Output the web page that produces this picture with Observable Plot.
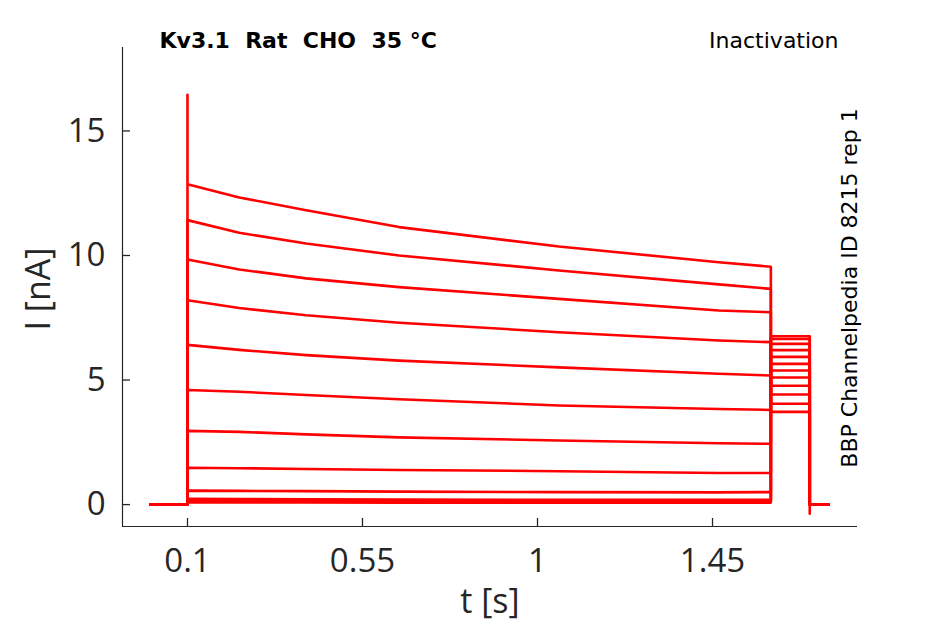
<!DOCTYPE html>
<html>
<head>
<meta charset="utf-8">
<script src="https://cdn.jsdelivr.net/npm/d3@7"></script>
<script src="https://cdn.jsdelivr.net/npm/@observablehq/plot@0.6"></script>
<style>
  html, body { margin: 0; padding: 0; background: #fff; }
  svg text { white-space: pre; }
</style>
</head>
<body>
<div id="chart"></div>
<script>
// ---- data ----
const titleText = "Kv3.1  Rat  CHO  35 °C";
const protocolText = "Inactivation";
const sideText = "BBP Channelpedia ID 8215 rep 1";
const xLabel = "t [s]";
const yLabel = "I [nA]";

const xTicks = [0.1, 0.55, 1, 1.45];
const xTickLabels = ["0.1", "0.55", "1", "1.45"];
const yTicks = [0, 5, 10, 15];
const yTickLabels = ["0", "5", "10", "15"];
const xDomain = [-0.0671, 1.8228];
const yDomain = [-0.88, 18.35];

// timing of the protocol (s)
const tStart = 0.005;
const tPulseOn = 0.1;
const tPulseOff = 1.6;
const tTestOff = 1.7;
const tEnd = 1.748;

// sampled times along the conditioning pulse (s)
const pulseTimes = [0.1, 0.233, 0.405, 0.644, 1.055, 1.466, 1.6];

// current during the conditioning pulse, one row per sweep (nA)
const pulseCurrents = [
  [12.86, 12.33, 11.82, 11.14, 10.36, 9.73, 9.55],
  [11.42, 10.91, 10.48, 10.00, 9.40, 8.84, 8.66],
  [9.84, 9.44, 9.08, 8.73, 8.26, 7.79, 7.72],
  [8.20, 7.89, 7.60, 7.30, 6.92, 6.59, 6.52],
  [6.41, 6.21, 6.00, 5.78, 5.51, 5.25, 5.18],
  [4.60, 4.53, 4.40, 4.23, 3.98, 3.84, 3.80],
  [2.96, 2.92, 2.82, 2.70, 2.57, 2.46, 2.44],
  [1.48, 1.46, 1.43, 1.39, 1.34, 1.27, 1.27],
  [0.56, 0.55, 0.54, 0.52, 0.50, 0.49, 0.50],
  [0.23, 0.22, 0.21, 0.20, 0.19, 0.19, 0.19],
  [0.15, 0.15, 0.14, 0.14, 0.13, 0.13, 0.13],
  [0.09, 0.09, 0.09, 0.08, 0.08, 0.08, 0.08]
];
// current during the test pulse (nA)
const testCurrents = [3.72, 4.05, 4.42, 4.77, 5.10, 5.38, 5.65, 5.93, 6.20, 6.45, 6.65, 6.76];
// capacitive transients (nA) at pulse onset and at test offset (null = none)
const onsetSpikes = [16.45, null, null, null, null, null, null, null, null, null, null, null];
const offsetSpikes = [-0.37, null, null, null, null, null, null, null, null, null, null, null];

// ---- build the table the library needs ----
const rows = [];
pulseCurrents.forEach((levels, s) => {
  const push = (t, i) => rows.push({sweep: s, t, i});
  push(tStart, 0);
  push(tPulseOn, 0);
  if (onsetSpikes[s] != null) push(tPulseOn, onsetSpikes[s]);
  pulseTimes.forEach((t, k) => push(t, levels[k]));
  push(tPulseOff, testCurrents[s]);
  push(tTestOff, testCurrents[s]);
  if (offsetSpikes[s] != null) push(tTestOff, offsetSpikes[s]);
  push(tTestOff, 0);
  push(tEnd, 0);
});

const ink = "#262626";
const tickFont = "'Open Sans', 'Noto Sans', sans-serif";
const textFont = "'DejaVu Sans', sans-serif";
const W = 945, H = 624, mL = 122, mR = 88, mT = 47, mB = 98;
const tickLen = 8; // px, pointing inward
const yTickSpan = (yDomain[1] - yDomain[0]) * tickLen / (H - mT - mB);
const xTickSpan = (xDomain[1] - xDomain[0]) * tickLen / (W - mL - mR);

const chart = Plot.plot({
  width: W,
  height: H,
  marginLeft: mL,
  marginRight: mR,
  marginTop: mT,
  marginBottom: mB,
  style: {background: "#fff", color: ink, overflow: "visible"},
  x: {domain: xDomain},
  y: {domain: yDomain},
  marks: [
    Plot.ruleX([xDomain[0]], {stroke: ink, strokeWidth: 1.2}),
    Plot.ruleY([yDomain[0]], {stroke: ink, strokeWidth: 1.2}),
    // inward ticks
    Plot.ruleX(xTicks, {x: d => d, y1: yDomain[0], y2: yDomain[0] + yTickSpan, stroke: ink, strokeWidth: 1.3}),
    Plot.ruleY(yTicks, {y: d => d, x1: xDomain[0], x2: xDomain[0] + xTickSpan, stroke: ink, strokeWidth: 1.3}),
    Plot.axisX(xTicks, {
      tickSize: 0, tickPadding: 22, fill: ink,
      fontSize: 33, fontFamily: tickFont,
      tickFormat: d => xTickLabels[xTicks.indexOf(d)], label: null
    }),
    Plot.axisY(yTicks, {
      tickSize: 0, tickPadding: 17, fill: ink,
      fontSize: 33, fontFamily: tickFont,
      tickFormat: d => yTickLabels[yTicks.indexOf(d)], label: null
    }),
    Plot.line(rows, {x: "t", y: "i", z: "sweep", stroke: "#ff0000", strokeWidth: 2.6, curve: "linear"}),
    Plot.text([xLabel], {text: d => d, frameAnchor: "bottom", dy: 76, lineAnchor: "middle", textAnchor: "middle",
      fontSize: 34, fontFamily: tickFont, fill: ink}),
    Plot.text([yLabel], {text: d => d, frameAnchor: "left", dx: -83, dy: 2, rotate: -90, lineAnchor: "middle",
      textAnchor: "middle", fontSize: 34, fontFamily: tickFont, fill: ink}),
    Plot.text([titleText], {text: d => d, frameAnchor: "top-left", dx: 37, dy: 0, textAnchor: "start",
      lineAnchor: "bottom", fontWeight: "bold", fontSize: 22, fontFamily: textFont, fill: "#000"}),
    Plot.text([protocolText], {text: d => d, frameAnchor: "top-right", dx: -19, dy: 0, textAnchor: "end",
      lineAnchor: "bottom", fontSize: 22, fontFamily: textFont, fill: "#000"}),
    Plot.text([sideText], {text: d => d, frameAnchor: "right", dx: -8, dy: 1, rotate: -90,
      lineAnchor: "middle", textAnchor: "middle", fontSize: 22, fontFamily: textFont, fill: "#000"})
  ]
});
chart.querySelectorAll("text").forEach(t => t.setAttributeNS("http://www.w3.org/XML/1998/namespace", "xml:space", "preserve"));
document.getElementById("chart").appendChild(chart);
</script>
</body>
</html>
